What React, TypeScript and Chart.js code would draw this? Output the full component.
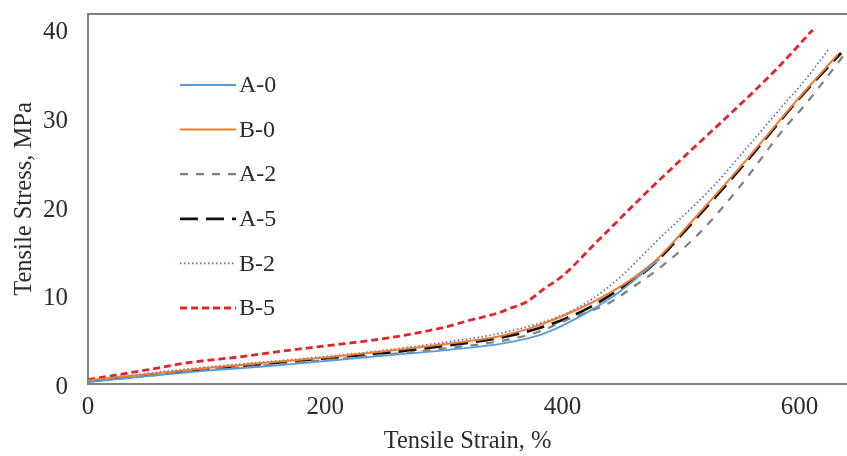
import { useEffect, useRef } from 'react';
import { Chart, registerables } from 'chart.js';

Chart.register(...registerables);

// ---- data ----
const seriesLabels = ['A-0', 'B-0', 'A-2', 'A-5', 'B-2', 'B-5'];

const a0Strain = [0, 50, 100, 150, 200, 250, 300, 350, 380, 400, 425, 450, 470, 482];
const a0Stress = [0.2, 0.9, 1.5, 2.0, 2.6, 3.2, 3.8, 4.6, 5.5, 6.6, 8.4, 10.6, 12.8, 14.1];

const b0Strain = [0, 50, 100, 150, 200, 250, 300, 347, 375, 414, 440, 459, 479, 510, 555, 600, 632];
const b0Stress = [0.4, 1.1, 1.8, 2.4, 3.0, 3.7, 4.5, 5.4, 6.4, 8.5, 10.3, 11.9, 14.0, 18.5, 25.3, 32.4, 37.2];

const a2Strain = [0, 50, 100, 150, 200, 250, 300, 350, 380, 403, 440, 460, 482, 516, 552, 586, 605, 625, 645, 655];
const a2Stress = [0.3, 0.9, 1.6, 2.1, 2.7, 3.3, 4.0, 4.9, 5.9, 7.2, 9.2, 11.0, 13.1, 17.1, 22.7, 28.7, 31.6, 35.0, 38.5, 40.2];

const a5Strain = [0, 50, 100, 150, 200, 250, 300, 350, 380, 403, 425, 450, 475, 510, 555, 600, 635];
const a5Stress = [0.3, 1.0, 1.7, 2.3, 2.9, 3.5, 4.3, 5.3, 6.3, 7.4, 8.8, 10.9, 13.3, 18.3, 25.1, 32.3, 37.4];

const b2Strain = [0, 50, 100, 150, 200, 250, 300, 350, 400, 425, 448, 480, 527, 555, 583, 605, 625];
const b2Stress = [0.4, 1.2, 1.9, 2.5, 3.1, 3.8, 4.7, 5.8, 7.8, 9.6, 12.0, 16.2, 22.3, 26.6, 31.0, 34.4, 37.9];

const b5Strain = [0, 50, 84, 130, 169, 200, 253, 300, 322, 345, 355, 370, 385, 400, 430, 476, 510, 543, 580, 611];
const b5Stress = [0.5, 1.6, 2.4, 3.1, 3.8, 4.3, 5.2, 6.4, 7.2, 8.0, 8.5, 9.3, 10.8, 12.2, 16.2, 22.3, 26.6, 30.7, 35.5, 40.0];

const xTicks = [0, 200, 400, 600];
const yTicks = [0, 10, 20, 30, 40];

// ---- styles ----
const FONT = '"Liberation Serif", "Times New Roman", serif';
const TEXT = '#2b2b2b';
const FRAME = '#808080';

const toPts = (xs: number[], ys: number[]) => xs.map((x, i) => ({ x, y: ys[i] }));

const insideLegend = {
  id: 'insideLegend',
  afterDraw(chart: any) {
    const ctx = chart.ctx;
    const x0 = 180, x1 = 236, top = 85, step = 44.6;
    chart.data.datasets.forEach((ds: any, i: number) => {
      const y = top + i * step;
      ctx.save();
      ctx.strokeStyle = ds.borderColor;
      ctx.lineWidth = ds.borderWidth;
      ctx.setLineDash(ds.borderDash || []);
      ctx.beginPath();
      ctx.moveTo(x0, y);
      ctx.lineTo(x1, y);
      ctx.stroke();
      ctx.setLineDash([]);
      ctx.fillStyle = TEXT;
      ctx.font = `24px ${FONT}`;
      ctx.textBaseline = 'middle';
      ctx.textAlign = 'left';
      ctx.fillText(ds.label, x1 + 3, y + 1);
      ctx.restore();
    });
  },
};

const topFrame = {
  id: 'topFrame',
  afterDraw(chart: any) {
    const { ctx, chartArea } = chart;
    ctx.save();
    ctx.strokeStyle = FRAME;
    ctx.lineWidth = 2;
    ctx.beginPath();
    ctx.moveTo(chartArea.left - 1, chartArea.top);
    ctx.lineTo(chartArea.right, chartArea.top);
    ctx.stroke();
    ctx.restore();
  },
};

export default function App() {
  const ref = useRef<HTMLCanvasElement | null>(null);

  useEffect(() => {
    document.body.style.margin = '0';
    if (!ref.current) return;
    const line = (label: string, xs: number[], ys: number[], color: string, width: number, dash: number[]) => ({
      label,
      data: toPts(xs, ys),
      borderColor: color,
      backgroundColor: color,
      borderWidth: width,
      borderDash: dash,
      pointRadius: 0,
      fill: false,
      cubicInterpolationMode: 'monotone' as const,
    });
    const chart = new Chart(ref.current, {
      type: 'line',
      data: {
        datasets: [
          line(seriesLabels[0], a0Strain, a0Stress, '#5b9bd5', 1.8, []),
          line(seriesLabels[1], b0Strain, b0Stress, '#ed7d31', 2, []),
          line(seriesLabels[2], a2Strain, a2Stress, '#7f7f7f', 2.2, [8, 8]),
          line(seriesLabels[3], a5Strain, a5Stress, '#111111', 2.8, [18, 8]),
          line(seriesLabels[4], b2Strain, b2Stress, '#6f62b8', 1.7, [1.5, 2.5]),
          line(seriesLabels[5], b5Strain, b5Stress, '#e0262b', 2.8, [7, 4]),
        ],
      },
      options: {
        responsive: false,
        animation: false,
        devicePixelRatio: 1,
        layout: { padding: { top: 14, right: 0, left: 0, bottom: 0 } },
        plugins: { legend: { display: false }, tooltip: { enabled: false } },
        scales: {
          x: {
            type: 'linear',
            min: 0,
            max: 640,
            afterFit: (s: any) => {
              s.height = 72;
              s.paddingLeft = 0;
              s.paddingRight = 0;
            },
            afterBuildTicks: (s: any) => { s.ticks = xTicks.map((v) => ({ value: v })); },
            ticks: { font: { family: FONT, size: 25 }, color: TEXT, padding: 8 },
            grid: { display: false, drawTicks: false },
            border: { display: true, color: FRAME, width: 2 },
            title: {
              display: true,
              text: 'Tensile Strain, %',
              font: { family: FONT, size: 24.5 },
              color: TEXT,
              padding: { top: 0, bottom: 0 },
            },
          },
          y: {
            type: 'linear',
            min: 0,
            max: 41.8,
            afterFit: (s: any) => {
              s.width = 88;
              s.paddingTop = 0;
              s.paddingBottom = 0;
            },
            afterBuildTicks: (s: any) => { s.ticks = yTicks.map((v) => ({ value: v })); },
            ticks: { font: { family: FONT, size: 25 }, color: TEXT, padding: 20, labelOffset: 3 },
            grid: { display: false, drawTicks: false },
            border: { display: true, color: FRAME, width: 2 },
            title: {
              display: true,
              text: 'Tensile Stress, MPa',
              font: { family: FONT, size: 24.5 },
              color: TEXT,
              padding: { top: 10, bottom: 0 },
            },
          },
        },
      },
      plugins: [insideLegend, topFrame],
    });
    return () => chart.destroy();
  }, []);

  return (
    <div style={{ width: 847, height: 456 }}>
      <canvas ref={ref} width={847} height={456} style={{ display: 'block' }} />
    </div>
  );
}
